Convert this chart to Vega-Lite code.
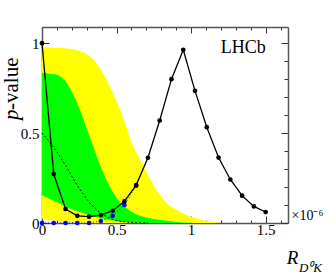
{
  "$schema": "https://vega.github.io/schema/vega-lite/v6.json",
  "autosize": "none",
  "padding": {"left": 42, "top": 27, "right": 44, "bottom": 50},
  "width": 246,
  "height": 196,
  "background": "white",
  "config": {"view": {"stroke": null}, "axis": {"grid": false}},
  "resolve": {"axis": {"x": "independent", "y": "independent"}},
  "layer": [
    {
      "data": {"values": [
        {"x": 0, "lo": 0.023, "hi": 0.978},
        {"x": 0.1, "lo": 0.013, "hi": 0.975},
        {"x": 0.2, "lo": 0.005, "hi": 0.967},
        {"x": 0.25, "lo": 0.003, "hi": 0.957},
        {"x": 0.3, "lo": 0.001, "hi": 0.94},
        {"x": 0.35, "lo": 0, "hi": 0.905},
        {"x": 0.4, "lo": 0, "hi": 0.845},
        {"x": 0.45, "lo": 0, "hi": 0.765},
        {"x": 0.5, "lo": 0, "hi": 0.675},
        {"x": 0.55, "lo": 0, "hi": 0.57},
        {"x": 0.6, "lo": 0, "hi": 0.45},
        {"x": 0.65, "lo": 0, "hi": 0.365},
        {"x": 0.7, "lo": 0, "hi": 0.285},
        {"x": 0.75, "lo": 0, "hi": 0.205},
        {"x": 0.8, "lo": 0, "hi": 0.145},
        {"x": 0.85, "lo": 0, "hi": 0.1},
        {"x": 0.9, "lo": 0, "hi": 0.075},
        {"x": 0.95, "lo": 0, "hi": 0.052},
        {"x": 1.0, "lo": 0, "hi": 0.035},
        {"x": 1.05, "lo": 0, "hi": 0.022},
        {"x": 1.1, "lo": 0, "hi": 0.013},
        {"x": 1.15, "lo": 0, "hi": 0.005},
        {"x": 1.2, "lo": 0, "hi": 0.001}
      ]},
      "mark": {"type": "area", "color": "#ffff00", "interpolate": "monotone"},
      "encoding": {
        "x": {"field": "x", "type": "quantitative",
          "scale": {"domain": [0, 1.65], "nice": false, "zero": false},
          "axis": {
            "orient": "bottom",
            "values": [0, 0.1, 0.2, 0.3, 0.4, 0.5, 0.6, 0.7, 0.8, 0.9, 1, 1.1, 1.2, 1.3, 1.4, 1.5, 1.6],
            "tickSize": {"condition": {"test": "abs(datum.value*2-round(datum.value*2))<0.001", "value": -7}, "value": -3},
            "labelExpr": "abs(datum.value*2-round(datum.value*2))<0.001 ? format(datum.value,'~g') : ''",
            "labelFont": "Liberation Serif", "labelFontSize": 15, "labelColor": "black", "labelPadding": 6,
            "labelFlush": false, "labelOverlap": false,
            "domainColor": "#555", "domainWidth": 1.5, "tickColor": "#333",
            "title": "R", "titleFont": "Liberation Serif", "titleFontStyle": "italic", "titleFontWeight": "normal",
            "titleFontSize": 19, "titleColor": "black", "titleX": 250, "titleY": 40, "titleAlign": "center", "titleBaseline": "alphabetic"
          }
        },
        "y": {"field": "hi", "type": "quantitative",
          "scale": {"domain": [0, 1.09], "nice": false, "zero": false},
          "axis": {
            "orient": "left",
            "values": [0, 0.1, 0.2, 0.3, 0.4, 0.5, 0.6, 0.7, 0.8, 0.9, 1],
            "tickSize": {"condition": {"test": "abs(datum.value*2-round(datum.value*2))<0.001", "value": -7}, "value": -4},
            "labelExpr": "abs(datum.value*2-round(datum.value*2))<0.001 ? format(datum.value,'~g') : ''",
            "labelFont": "Liberation Serif", "labelFontSize": 15, "labelColor": "black", "labelPadding": 10,
            "labelFlush": false, "labelOverlap": false,
            "domainColor": "#555", "domainWidth": 1.5, "tickColor": "#333",
            "title": "-value", "titleFont": "Liberation Serif", "titleFontWeight": "normal", "titleFontSize": 21,
            "titleColor": "black", "titleAngle": -90, "titleX": -25, "titleY": 30, "titleAlign": "right", "titleBaseline": "alphabetic"
          }
        },
        "y2": {"field": "lo"}
      }
    },
    {
      "data": {"values": [
        {"x": 0, "lo": 0.155, "hi": 0.835},
        {"x": 0.05, "lo": 0.135, "hi": 0.83},
        {"x": 0.1, "lo": 0.115, "hi": 0.825},
        {"x": 0.15, "lo": 0.095, "hi": 0.795},
        {"x": 0.2, "lo": 0.077, "hi": 0.73},
        {"x": 0.25, "lo": 0.062, "hi": 0.64},
        {"x": 0.3, "lo": 0.048, "hi": 0.525},
        {"x": 0.35, "lo": 0.036, "hi": 0.41},
        {"x": 0.4, "lo": 0.025, "hi": 0.3},
        {"x": 0.45, "lo": 0.016, "hi": 0.21},
        {"x": 0.5, "lo": 0.01, "hi": 0.14},
        {"x": 0.55, "lo": 0.006, "hi": 0.095},
        {"x": 0.6, "lo": 0.003, "hi": 0.063},
        {"x": 0.65, "lo": 0.001, "hi": 0.043},
        {"x": 0.7, "lo": 0, "hi": 0.03},
        {"x": 0.8, "lo": 0, "hi": 0.016},
        {"x": 0.9, "lo": 0, "hi": 0.006},
        {"x": 1.0, "lo": 0, "hi": 0.001}
      ]},
      "mark": {"type": "area", "color": "#00ff00", "interpolate": "monotone"},
      "encoding": {
        "x": {"field": "x", "type": "quantitative", "axis": null},
        "y": {"field": "hi", "type": "quantitative", "axis": null},
        "y2": {"field": "lo"}
      }
    },
    {
      "mark": {"type": "rule", "color": "#ff5050", "strokeWidth": 1},
      "encoding": {"y": {"datum": 0.05, "type": "quantitative", "axis": null}}
    },
    {
      "data": {"values": [
        {"x": 0, "p": 0.5},
        {"x": 0.0789, "p": 0.42},
        {"x": 0.1579, "p": 0.32},
        {"x": 0.2368, "p": 0.21},
        {"x": 0.3158, "p": 0.117},
        {"x": 0.3947, "p": 0.055},
        {"x": 0.4737, "p": 0.021},
        {"x": 0.5526, "p": 0.007},
        {"x": 0.6316, "p": 0.002},
        {"x": 0.7105, "p": 0}
      ]},
      "mark": {"type": "line", "color": "black", "strokeWidth": 1, "strokeDash": [2, 2], "interpolate": "monotone"},
      "encoding": {
        "x": {"field": "x", "type": "quantitative", "axis": null},
        "y": {"field": "p", "type": "quantitative", "axis": null}
      }
    },
    {
      "data": {"values": [
        {"x": 0, "p": 0},
        {"x": 0.0789, "p": 0},
        {"x": 0.1579, "p": 0},
        {"x": 0.2368, "p": 0},
        {"x": 0.3158, "p": 0},
        {"x": 0.3947, "p": 0.011},
        {"x": 0.4737, "p": 0.04},
        {"x": 0.5526, "p": 0.1},
        {"x": 0.6316, "p": 0.207}
      ]},
      "encoding": {
        "x": {"field": "x", "type": "quantitative", "axis": null},
        "y": {"field": "p", "type": "quantitative", "axis": null}
      },
      "layer": [
        {"mark": {"type": "line", "color": "#2a2a90", "strokeWidth": 1, "strokeDash": [1, 2]}},
        {"mark": {"type": "point", "filled": true, "color": "#0000ff", "size": 22, "opacity": 1}}
      ]
    },
    {
      "data": {"values": [
        {"x": 0, "p": 1.0},
        {"x": 0.0789, "p": 0.272},
        {"x": 0.1579, "p": 0.078},
        {"x": 0.2368, "p": 0.04},
        {"x": 0.3158, "p": 0.035},
        {"x": 0.3947, "p": 0.044},
        {"x": 0.4737, "p": 0.068},
        {"x": 0.5526, "p": 0.12},
        {"x": 0.6316, "p": 0.211},
        {"x": 0.7105, "p": 0.363},
        {"x": 0.7895, "p": 0.57},
        {"x": 0.8684, "p": 0.8},
        {"x": 0.9474, "p": 0.963},
        {"x": 1.0263, "p": 0.735},
        {"x": 1.1053, "p": 0.533},
        {"x": 1.1842, "p": 0.364},
        {"x": 1.2632, "p": 0.242},
        {"x": 1.3421, "p": 0.152},
        {"x": 1.4211, "p": 0.092},
        {"x": 1.5, "p": 0.061}
      ]},
      "encoding": {
        "x": {"field": "x", "type": "quantitative", "axis": null},
        "y": {"field": "p", "type": "quantitative",
          "axis": {"orient": "left", "labels": false, "ticks": false, "domain": false,
            "title": "p", "titleFont": "Liberation Serif", "titleFontStyle": "italic", "titleFontWeight": "normal",
            "titleFontSize": 21, "titleColor": "black", "titleAngle": -90, "titleX": -25, "titleY": 82,
            "titleAlign": "right", "titleBaseline": "alphabetic"}}
      },
      "layer": [
        {"mark": {"type": "line", "color": "black", "strokeWidth": 1.3}},
        {"mark": {"type": "point", "filled": true, "color": "black", "size": 22, "opacity": 1}}
      ]
    },
    {
      "data": {"values": [{"x": 1.35, "p": 0.975, "t": "LHCb"}]},
      "mark": {"type": "text", "font": "Liberation Serif", "fontSize": 18, "color": "black", "align": "center", "baseline": "middle"},
      "encoding": {
        "x": {"field": "x", "type": "quantitative",
          "axis": {
            "orient": "top",
            "values": [0, 0.1, 0.2, 0.3, 0.4, 0.5, 0.6, 0.7, 0.8, 0.9, 1, 1.1, 1.2, 1.3, 1.4, 1.5, 1.6],
            "tickSize": {"condition": {"test": "abs(datum.value*2-round(datum.value*2))<0.001", "value": -6}, "value": -3},
            "labels": false, "domainColor": "#555", "domainWidth": 1.5, "tickColor": "#333",
            "title": "D⁰K", "titleFont": "Liberation Serif", "titleFontStyle": "italic", "titleFontWeight": "normal",
            "titleFontSize": 13, "titleColor": "black", "titleX": 268, "titleY": 244, "titleAlign": "center", "titleBaseline": "alphabetic"
          }
        },
        "y": {"field": "p", "type": "quantitative",
          "axis": {
            "orient": "right",
            "values": [0, 0.1, 0.2, 0.3, 0.4, 0.5, 0.6, 0.7, 0.8, 0.9, 1],
            "tickSize": {"condition": {"test": "abs(datum.value*2-round(datum.value*2))<0.001", "value": -7}, "value": -4},
            "labels": false, "domainColor": "#555", "domainWidth": 1.5, "tickColor": "#333",
            "title": "×10⁻⁶", "titleFont": "Liberation Serif", "titleFontWeight": "normal", "titleFontSize": 14,
            "titleColor": "black", "titleAngle": 0, "titleX": 3, "titleY": 192, "titleAlign": "left", "titleBaseline": "alphabetic"
          }
        },
        "text": {"field": "t"}
      }
    }
  ]
}
